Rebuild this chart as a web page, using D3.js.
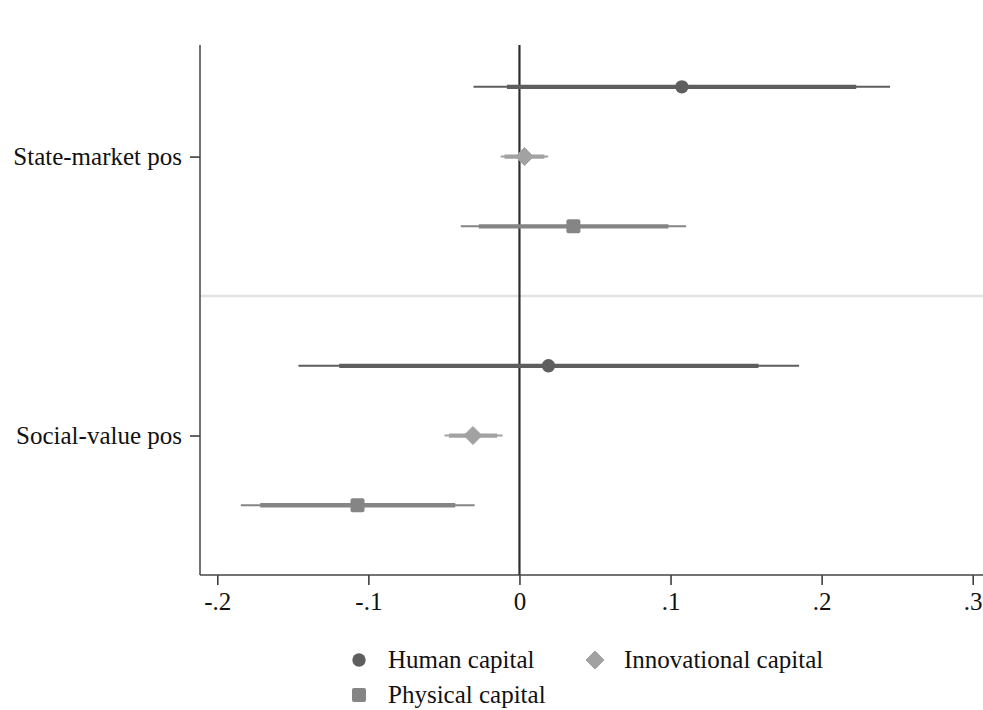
<!DOCTYPE html>
<html>
<head>
<meta charset="utf-8">
<script src="https://cdn.jsdelivr.net/npm/d3@7"></script>
<style>
  html, body { margin: 0; padding: 0; background: #fff; }
  svg text { font-family: "Liberation Serif", "Times New Roman", serif; fill: #111; }
</style>
</head>
<body>
<svg id="chart" width="983" height="710"></svg>
<script>
// ---- Data ----
const categories = ["State-market pos", "Social-value pos"];
const series = ["Human capital", "Innovational capital", "Physical capital"];
// point estimates, per series, per category
const humanEst   = [0.1075, 0.0192];
const innovEst   = [0.0033, -0.0308];
const physEst    = [0.0357, -0.1072];
// outer (thin) intervals
const humanLo95  = [-0.0304, -0.1463];
const humanHi95  = [0.2453, 0.1851];
const innovLo95  = [-0.0124, -0.0496];
const innovHi95  = [0.0190, -0.0112];
const physLo95   = [-0.0388, -0.1844];
const physHi95   = [0.1103, -0.0297];
// inner (thick) intervals
const humanLo90  = [-0.0083, -0.1193];
const humanHi90  = [0.2229, 0.1582];
const innovLo90  = [-0.0099, -0.0466];
const innovHi90  = [0.0165, -0.0148];
const physLo90   = [-0.0269, -0.1716];
const physHi90   = [0.0986, -0.0425];
const xTicks = [-0.2, -0.1, 0, 0.1, 0.2, 0.3];
const xTickLabels = ["-.2", "-.1", "0", ".1", ".2", ".3"];

// ---- Build rows ----
const est = [humanEst, innovEst, physEst];
const lo95 = [humanLo95, innovLo95, physLo95];
const hi95 = [humanHi95, innovHi95, physHi95];
const lo90 = [humanLo90, innovLo90, physLo90];
const hi90 = [humanHi90, innovHi90, physHi90];
const colors = ["#5e5e5e", "#a2a2a2", "#858585"];
const shapes = ["circle", "diamond", "square"];

const rows = [];
categories.forEach((c, ci) => {
  series.forEach((s, si) => {
    rows.push({
      cat: ci, ser: si, pos: ci * 4 + si,
      est: est[si][ci], lo95: lo95[si][ci], hi95: hi95[si][ci],
      lo90: lo90[si][ci], hi90: hi90[si][ci]
    });
  });
});

// ---- Layout ----
const plotL = 200, plotR = 983, plotT = 45, plotB = 575;
const svg = d3.select("#chart");
const x = d3.scaleLinear().domain([-0.2, 0.3]).range([217.3, 972.7]);
const y = d3.scaleLinear().domain([-0.6, 7]).range([plotT, plotB]);
const FS = 25;

// separator between groups
svg.append("line")
  .attr("x1", plotL).attr("x2", plotR)
  .attr("y1", y(3)).attr("y2", y(3))
  .attr("stroke", "#e2e2e2").attr("stroke-width", 2.5);

// zero line
svg.append("line")
  .attr("x1", x(0)).attr("x2", x(0))
  .attr("y1", plotT).attr("y2", plotB)
  .attr("stroke", "#2e2e2e").attr("stroke-width", 2.2);

// axes
const xAxis = d3.axisBottom(x).tickValues(xTicks)
  .tickFormat((d, i) => xTickLabels[i]).tickSize(10).tickPadding(7);
const gx = svg.append("g").attr("transform", `translate(0,${plotB})`).call(xAxis);
gx.select(".domain").remove();
gx.selectAll(".tick line").attr("stroke", "#333").attr("stroke-width", 1.5);
gx.selectAll(".tick text").attr("font-size", FS).attr("font-family", "Liberation Serif").attr("fill", "#111");
svg.append("line").attr("x1", plotL).attr("x2", plotR).attr("y1", plotB).attr("y2", plotB)
  .attr("stroke", "#444").attr("stroke-width", 1.5);

const yAxis = d3.axisLeft(d3.scaleLinear().domain(y.domain()).range(y.range()))
  .tickValues(categories.map((c, i) => i * 4 + 1))
  .tickFormat((d) => categories[(d - 1) / 4]).tickSize(10).tickPadding(8);
const gy = svg.append("g").attr("transform", `translate(${plotL},0)`).call(yAxis);
gy.select(".domain").remove();
gy.selectAll(".tick line").attr("stroke", "#333").attr("stroke-width", 1.5);
gy.selectAll(".tick text").attr("font-size", FS).attr("font-family", "Liberation Serif").attr("fill", "#111");
svg.append("line").attr("x1", plotL).attr("x2", plotL).attr("y1", plotT).attr("y2", plotB)
  .attr("stroke", "#444").attr("stroke-width", 1.5);

// ---- CI bars ----
const g = svg.append("g");
g.selectAll("line.thin").data(rows).join("line").attr("class", "thin")
  .attr("x1", d => x(d.lo95)).attr("x2", d => x(d.hi95))
  .attr("y1", d => y(d.pos)).attr("y2", d => y(d.pos))
  .attr("stroke", d => colors[d.ser]).attr("stroke-width", 2);
g.selectAll("line.thick").data(rows).join("line").attr("class", "thick")
  .attr("x1", d => x(d.lo90)).attr("x2", d => x(d.hi90))
  .attr("y1", d => y(d.pos)).attr("y2", d => y(d.pos))
  .attr("stroke", d => colors[d.ser]).attr("stroke-width", 4.3);

function drawMarker(sel, shape, color, cx, cy) {
  if (shape === "circle") {
    sel.append("circle").attr("cx", cx).attr("cy", cy).attr("r", 6.7).attr("fill", color);
  } else if (shape === "square") {
    sel.append("rect").attr("x", cx - 7).attr("y", cy - 7).attr("width", 14).attr("height", 14)
      .attr("rx", 2).attr("fill", color);
  } else {
    const r = 9;
    sel.append("path")
      .attr("d", `M${cx},${cy - r}L${cx + r},${cy}L${cx},${cy + r}L${cx - r},${cy}Z`)
      .attr("fill", color).attr("stroke", color).attr("stroke-width", 1).attr("stroke-linejoin", "round");
  }
}
rows.forEach(d => drawMarker(g, shapes[d.ser], colors[d.ser], x(d.est), y(d.pos)));

// ---- Legend ----
const legend = svg.append("g");
const legPos = [[359, 660], [595, 660], [359, 695]];
series.forEach((s, i) => {
  const [lx, ly] = legPos[i];
  drawMarker(legend, shapes[i], colors[i], lx, ly);
  legend.append("text").attr("x", lx + 29).attr("y", ly).attr("dy", "0.33em")
    .attr("font-size", FS).text(s);
});
</script>
</body>
</html>
